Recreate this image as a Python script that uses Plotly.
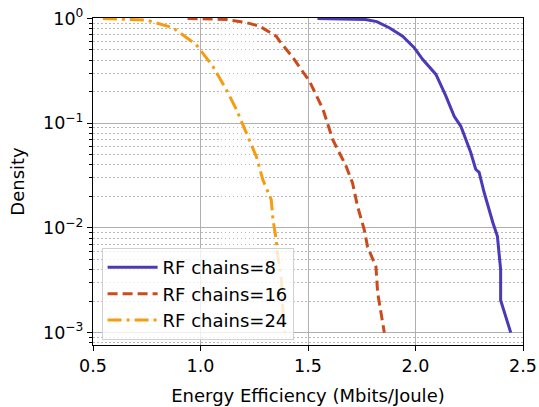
import plotly.graph_objects as go

# RF chains = 8
x8 = [1.544, 1.65, 1.767, 1.82, 1.878, 1.94, 1.994, 2.033, 2.095, 2.141, 2.18, 2.211, 2.234,
      2.257, 2.28, 2.296, 2.319, 2.342, 2.36, 2.381, 2.39, 2.396, 2.396, 2.413, 2.443]
y8 = [1.0, 0.995, 0.977, 0.933, 0.815, 0.676, 0.525, 0.407, 0.292, 0.182, 0.116, 0.0933, 0.0697,
      0.0525, 0.0363, 0.0339, 0.0219, 0.0148, 0.0112, 0.0083, 0.0056, 0.0040, 0.00204, 0.00158, 0.001]

# RF chains = 16
x16 = [0.94, 1.12, 1.213, 1.275, 1.352, 1.368, 1.43, 1.507, 1.57, 1.615, 1.677, 1.707, 1.73,
       1.762, 1.777, 1.816, 1.824, 1.855]
y16 = [1.0, 0.977, 0.912, 0.843, 0.676, 0.607, 0.422, 0.251, 0.135, 0.0697, 0.0389, 0.0269, 0.0162,
       0.00955, 0.0066, 0.00427, 0.0024, 0.001]

# RF chains = 24
x24 = [0.546, 0.593, 0.749, 0.871, 0.98, 1.057, 1.12, 1.167, 1.213, 1.26, 1.29, 1.329, 1.337,
       1.352, 1.36, 1.376, 1.382, 1.391]
y24 = [1.0, 0.995, 0.964, 0.815, 0.562, 0.35, 0.209, 0.135, 0.0813, 0.0479, 0.0288, 0.0186, 0.012,
       0.00776, 0.00537, 0.00324, 0.00178, 0.001]

names = ["RF chains=8", "RF chains=16", "RF chains=24"]
xticks = [0.5, 1.0, 1.5, 2.0, 2.5]
yticks = [1, 0.1, 0.01, 0.001]
yticktext = ["10<sup>0</sup>", "10<sup>−1</sup>", "10<sup>−2</sup>", "10<sup>−3</sup>"]
yminor = [m * d for d in [0.0001, 0.001, 0.01, 0.1] for m in range(2, 10)]

FONT = "DejaVu Sans"
fig = go.Figure()
styles = [("#4a3ab8", "solid"), ("#cc4b1c", "10px,5px"), ("#f59c10", "14px,5px,3px,5px")]
for (xs, ys), name, (col, dash) in zip([(x8, y8), (x16, y16), (x24, y24)], names, styles):
    fig.add_trace(go.Scatter(x=xs, y=ys, mode="lines", name=name, legendgroup=name,
                             line=dict(color=col, width=3, dash=dash)))

fig.update_layout(
    width=539, height=407,
    margin=dict(l=93, r=16, t=18, b=62),
    plot_bgcolor="white", paper_bgcolor="white",
    font=dict(family=FONT, size=17, color="black"),
    legend=dict(x=0.02, y=0.015, xanchor="left", yanchor="bottom",
                bgcolor="rgba(255,255,255,0.8)", bordercolor="#d0d0d0", borderwidth=1,
                font=dict(family=FONT, size=18), itemwidth=50, tracegroupgap=0),
    showlegend=True,
)
fig.update_xaxes(
    range=[0.5, 2.5], tickmode="array", tickvals=xticks, ticktext=[f"{v:.1f}" for v in xticks],
    showline=True, linecolor="black", linewidth=1.2, mirror=True, automargin=False,
    ticks="outside", ticklen=5, tickcolor="black",
    showgrid=True, gridcolor="#b0b0b0", gridwidth=1, zeroline=False,
    title=dict(text="Energy Efficiency (Mbits/Joule)", font=dict(family=FONT, size=18), standoff=14),
    tickfont=dict(family=FONT, size=17.5),
)
fig.update_yaxes(
    type="log", range=[-3.118, 0.004], tickmode="array", tickvals=yticks, ticktext=yticktext,
    showline=True, linecolor="black", linewidth=1.2, mirror=True, automargin=False,
    ticks="outside", ticklen=5, tickcolor="black",
    showgrid=True, gridcolor="#b0b0b0", gridwidth=1, zeroline=False,
    minor=dict(tickmode="array", tickvals=yminor, ticks="outside", ticklen=3, tickcolor="black",
               showgrid=True, gridcolor="#b8b8b8", griddash="1.5px,2.5px", gridwidth=1),
    title=dict(text="Density", font=dict(family=FONT, size=18), standoff=13),
    tickfont=dict(family=FONT, size=17.5),
)
fig.write_html("out.html")
